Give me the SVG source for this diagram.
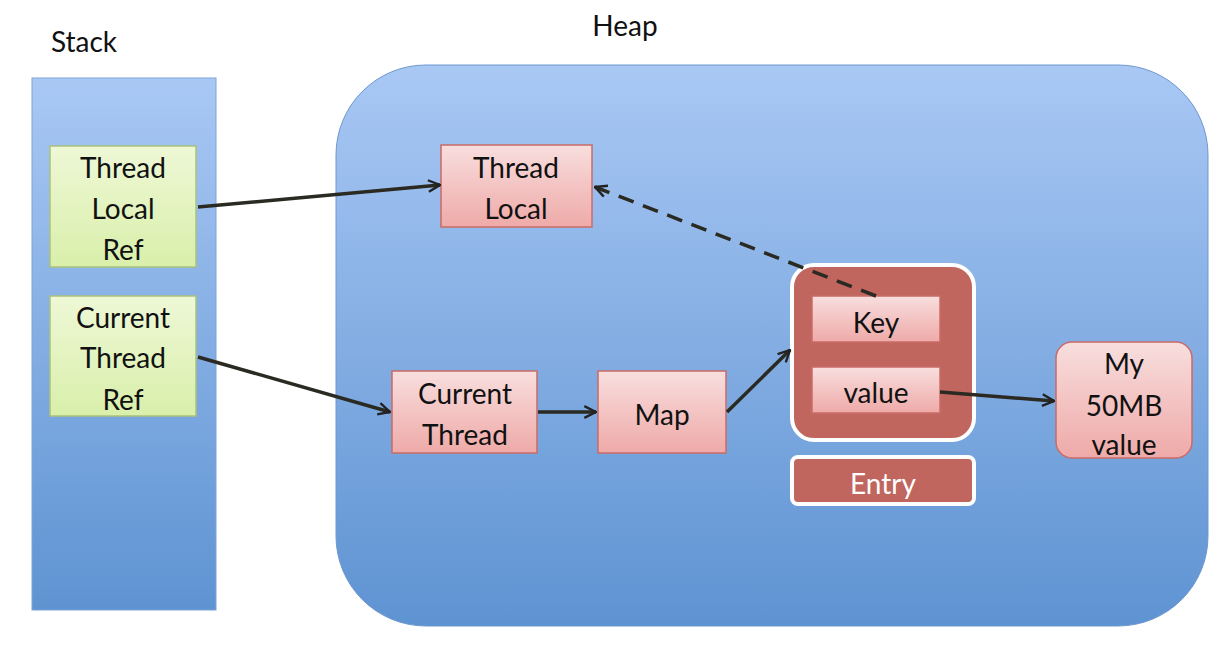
<svg xmlns="http://www.w3.org/2000/svg" width="1228" height="650" viewBox="0 0 1228 650">
<defs>
<linearGradient id="blue" x1="0" y1="0" x2="0" y2="1"><stop offset="0" stop-color="#a9c8f4"/><stop offset="1" stop-color="#5e93d2"/></linearGradient>
<linearGradient id="pink" x1="0" y1="0" x2="0" y2="1"><stop offset="0" stop-color="#f8dede"/><stop offset="1" stop-color="#eeaaa8"/></linearGradient>
<linearGradient id="green" x1="0" y1="0" x2="0" y2="1"><stop offset="0" stop-color="#eef8d6"/><stop offset="1" stop-color="#d9efaa"/></linearGradient>
<marker id="arr" viewBox="0 0 12 12" refX="11" refY="6" markerWidth="12" markerHeight="12" markerUnits="userSpaceOnUse" orient="auto"><path d="M1,1 L11,6 L1,11" fill="none" stroke="#222" stroke-width="2"/></marker>
<marker id="arr2" viewBox="0 0 12 12" refX="11" refY="6" markerWidth="14" markerHeight="14" markerUnits="userSpaceOnUse" orient="auto"><path d="M1,1 L11,6 L1,11" fill="none" stroke="#222" stroke-width="2"/></marker>
</defs>
<style>
text{font-family:Lato,"Liberation Sans",sans-serif;font-size:28px;fill:#111;text-anchor:middle}
.pink{fill:url(#pink);stroke:#c96b67;stroke-width:1.5}
.green{fill:url(#green);stroke:#aac27a;stroke-width:1.5}
.con{fill:none;stroke:#2a2a22;stroke-width:3.5}
</style>
<rect width="1228" height="650" fill="#fff"/>
<g id="stack"><rect x="32" y="78" width="184" height="532" fill="url(#blue)" stroke="#7ea3d6"/><text x="84" y="52">Stack</text></g>
<g id="heap"><rect x="336" y="65" width="872" height="561" rx="90" fill="url(#blue)" stroke="#6d97cf"/><text x="625" y="36">Heap</text></g>
<g id="tlref"><rect class="green" x="50" y="146" width="146" height="121"/><text x="123" y="178">Thread</text><text x="123" y="219">Local</text><text x="123" y="260">Ref</text></g>
<g id="ctref"><rect class="green" x="50" y="296" width="146" height="120"/><text x="123" y="328">Current</text><text x="123" y="368">Thread</text><text x="123" y="410">Ref</text></g>
<g id="tl"><rect class="pink" x="441" y="145" width="151" height="82"/><text x="516" y="178">Thread</text><text x="516" y="219">Local</text></g>
<g id="ct"><rect class="pink" x="392" y="371" width="145" height="82"/><text x="465" y="404">Current</text><text x="465" y="445">Thread</text></g>
<g id="map"><rect class="pink" x="598" y="371" width="128" height="82"/><text x="662" y="425">Map</text></g>
<g id="entrybox"><rect x="792" y="265" width="182" height="175" rx="22" fill="#c0665f" stroke="#fff" stroke-width="4"/></g>
<g id="key"><rect class="pink" x="812" y="296" width="128" height="46"/><text x="876" y="333">Key</text></g>
<g id="value"><rect class="pink" x="812" y="367" width="128" height="46"/><text x="876" y="403">value</text></g>
<g id="entry"><rect x="792" y="457" width="182" height="47" rx="6" fill="#c0665f" stroke="#fff" stroke-width="4"/><text x="883" y="494" style="fill:#fff">Entry</text></g>
<g id="big"><rect class="pink" x="1056" y="342" width="136" height="116" rx="16"/><text x="1124" y="374">My</text><text x="1124" y="416">50MB</text><text x="1124" y="455">value</text></g>
<g id="connectors">
<path class="con" d="M198,207 L440,185" marker-end="url(#arr2)"/>
<path class="con" d="M198,357 L390,412" marker-end="url(#arr2)"/>
<path class="con" d="M538,412 L596,412" marker-end="url(#arr2)"/>
<path class="con" d="M727,412 L790,350" marker-end="url(#arr2)"/>
<path class="con" d="M940,392 L1054,401" marker-end="url(#arr2)"/>
<path class="con" d="M876,296 L595,187" stroke-dasharray="16,10" marker-end="url(#arr2)"/>
</g>
</svg>
